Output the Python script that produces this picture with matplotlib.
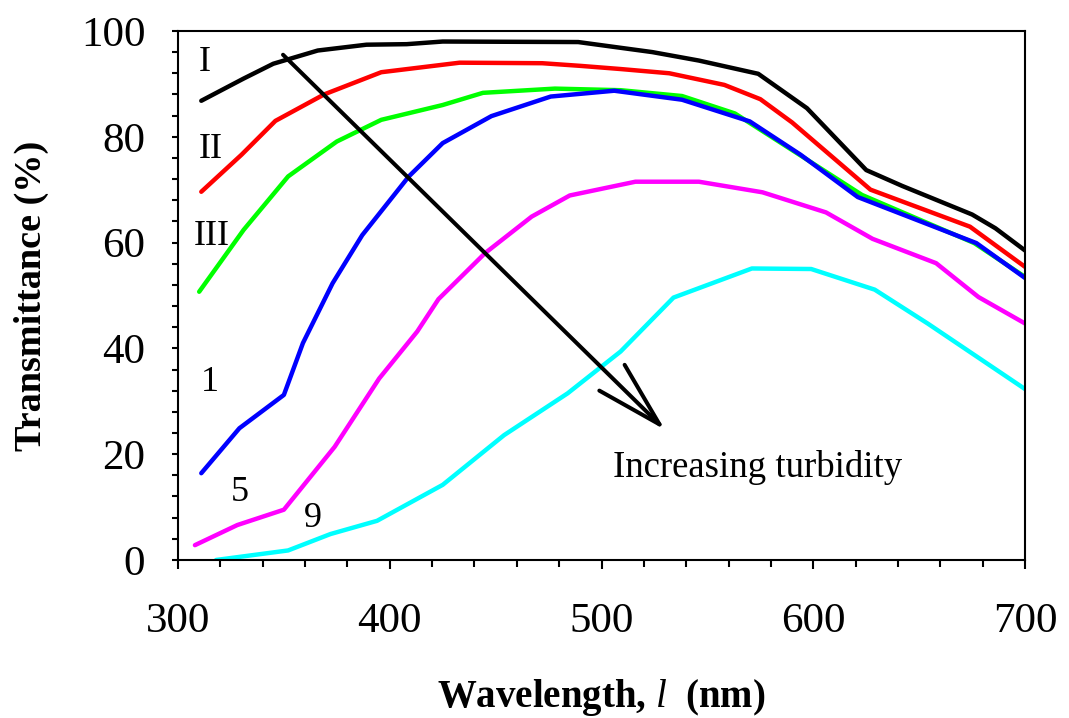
import matplotlib
matplotlib.use('Agg')
import matplotlib.pyplot as plt
from matplotlib.ticker import MultipleLocator

plt.rcParams['font.family'] = ['Liberation Serif', 'DejaVu Serif']
plt.rcParams['mathtext.fontset'] = 'custom'
plt.rcParams['mathtext.it'] = 'Liberation Serif:italic'
plt.rcParams['mathtext.rm'] = 'Liberation Serif'

# curve I (black)
wl_I = [311, 331, 345, 366, 389, 408, 425, 489, 524, 546, 574, 597, 625, 642, 675, 686, 700]
tr_I = [86.8, 91.0, 93.8, 96.3, 97.4, 97.5, 98.0, 97.9, 96.0, 94.4, 91.9, 85.4, 73.7, 70.7, 65.3, 62.7, 58.5]
# curve II (red)
wl_II = [311, 330, 346, 369, 396, 433, 472, 490, 509, 532, 558, 575, 590, 627, 674, 700]
tr_II = [69.6, 76.6, 83.0, 88.0, 92.2, 94.0, 93.9, 93.4, 92.8, 92.0, 89.8, 87.1, 82.7, 70.0, 63.0, 55.4]
# curve III (green)
wl_III = [310, 331, 352, 375, 396, 425, 444, 478, 509, 538, 563, 595, 623, 676, 700]
tr_III = [50.7, 62.4, 72.5, 79.1, 83.2, 86.0, 88.3, 89.1, 88.8, 87.7, 84.4, 76.2, 69.0, 59.9, 53.5]
# curve 1 (blue)
wl_1 = [311, 329, 350, 359, 373, 387, 409, 425, 448, 476, 506, 538, 570, 594, 621, 677, 700]
tr_1 = [16.4, 24.9, 31.2, 41.0, 52.3, 61.4, 72.5, 78.8, 83.9, 87.6, 88.7, 87.0, 82.9, 76.6, 68.6, 59.9, 53.3]
# curve 5 (magenta)
wl_5 = [308, 328, 350, 374, 395, 413, 423, 445, 467, 485, 516, 546, 576, 606, 628, 658, 678, 700]
tr_5 = [2.8, 6.6, 9.5, 21.4, 34.3, 43.2, 49.3, 58.0, 64.9, 68.9, 71.5, 71.5, 69.5, 65.7, 60.7, 56.1, 49.7, 44.7]
# curve 9 (cyan)
wl_9 = [318, 352, 372, 394, 425, 454, 484, 509, 534, 571, 599, 629, 654, 700]
tr_9 = [0.0, 1.8, 4.9, 7.4, 14.2, 23.6, 31.5, 39.4, 49.6, 55.1, 55.0, 51.1, 44.7, 32.3]

series = [
    (wl_I, tr_I, '#000000'),
    (wl_II, tr_II, '#ff0000'),
    (wl_III, tr_III, '#00ff00'),
    (wl_1, tr_1, '#0000ff'),
    (wl_5, tr_5, '#ff00ff'),
    (wl_9, tr_9, '#00ffff'),
]

curve_labels = ['I', 'II', 'III', '1', '5', '9']
label_x = [312.8, 315.6, 316.0, 315.1, 329.3, 363.8]
label_y = [94.1, 77.5, 61.1, 33.6, 12.7, 7.9]

fig = plt.figure(figsize=(10.69, 7.18), dpi=100)
ax = fig.add_axes([0.1665, 0.2201, 0.7924, 0.7368])

for wl, tr, col in series:
    ax.plot(wl, tr, color=col, lw=3.2, solid_capstyle='round', solid_joinstyle='round')

for lab, lx, ly in zip(curve_labels, label_x, label_y):
    ax.text(lx, ly, lab, fontsize=26, ha='center', va='center')

# arrow showing turbidity direction
ax.annotate('', xy=(530, 24.6), xytext=(349.6, 95.5),
            arrowprops=dict(arrowstyle='->, head_length=2.4, head_width=0.65',
                            mutation_scale=20, lw=2.9, color='black',
                            shrinkA=0, shrinkB=0),
            zorder=5)
ax.text(505.4, 17.4, 'Increasing turbidity', fontsize=26.5, ha='left', va='center')

ax.set_xlim(300, 700)
ax.set_ylim(0, 100)
ax.xaxis.set_major_locator(MultipleLocator(100))
ax.xaxis.set_minor_locator(MultipleLocator(20))
ax.yaxis.set_major_locator(MultipleLocator(20))
ax.yaxis.set_minor_locator(MultipleLocator(4))

ax.tick_params(axis='both', which='both', direction='out', width=1.5, labelsize=31)
ax.tick_params(axis='x', which='major', length=6.5, pad=24)
ax.tick_params(axis='x', which='minor', length=5)
ax.tick_params(axis='y', which='both', length=4.5, pad=19)
for sp in ax.spines.values():
    sp.set_linewidth(1.5)

ax.set_ylabel('Transmittance (%)', fontsize=27.5, fontweight='bold', labelpad=23)
ax.set_xlabel(r'Wavelength, $\mathit{l}$  (nm)', fontsize=28, fontweight='bold', labelpad=26)

fig.savefig('out.png', dpi=100)
